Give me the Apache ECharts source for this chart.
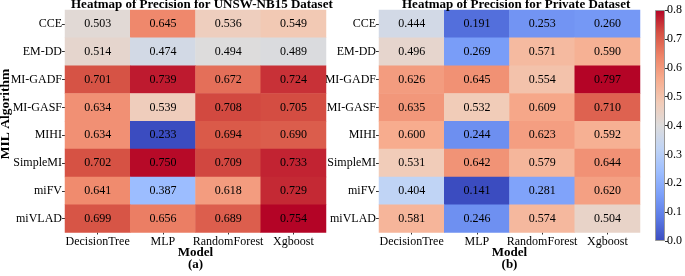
<!DOCTYPE html>
<html>
<head>
<meta charset="utf-8">
<script src="https://cdn.jsdelivr.net/npm/echarts@6/dist/echarts.min.js"></script>
<style>
  html, body { margin: 0; padding: 0; background: #fff; }
  #chart { width: 685px; height: 276px; }
</style>
</head>
<body>
<div id="chart"></div>
<script>
var models = ['DecisionTree', 'MLP', 'RandomForest', 'Xgboost'];
var algorithms = ['CCE', 'EM-DD', 'MI-GADF', 'MI-GASF', 'MIHI', 'SimpleMI', 'miFV', 'miVLAD'];

// 每行一个算法，列顺序同 models
var unswPrecision = [
  [0.503, 0.645, 0.536, 0.549],
  [0.514, 0.474, 0.494, 0.489],
  [0.701, 0.739, 0.672, 0.724],
  [0.634, 0.539, 0.708, 0.705],
  [0.634, 0.233, 0.694, 0.690],
  [0.702, 0.750, 0.709, 0.733],
  [0.641, 0.387, 0.618, 0.729],
  [0.699, 0.656, 0.689, 0.754]
];
var privatePrecision = [
  [0.444, 0.191, 0.253, 0.260],
  [0.496, 0.269, 0.571, 0.590],
  [0.626, 0.645, 0.554, 0.797],
  [0.635, 0.532, 0.609, 0.710],
  [0.600, 0.244, 0.623, 0.592],
  [0.531, 0.642, 0.579, 0.644],
  [0.404, 0.141, 0.281, 0.620],
  [0.581, 0.246, 0.574, 0.504]
];
var colorbarRange = [0.0, 0.8];
var colorbarStep = 0.1;

var coolwarm = ['#3b4cc0', '#5b7ae5', '#7b9ff9', '#9ebeff', '#c0d4f5', '#dddcdc',
                '#f2cbb7', '#f7ac8e', '#ee8468', '#d65244', '#b40426'];
var serif = "'Liberation Serif', 'Times New Roman', serif";

function toCells(table) {
  var out = [];
  table.forEach(function (row, y) {
    row.forEach(function (v, x) { out.push([x, y, v]); });
  });
  return out;
}
function flat(table) { return [].concat.apply([], table); }

var stops = coolwarm.slice().reverse().map(function (c, i) {
  return { offset: i / (coolwarm.length - 1), color: c };
});

var myChart = echarts.init(document.getElementById('chart'));

function xAxisFor(gi, tag) {
  return {
    type: 'category', gridIndex: gi, data: models, position: 'bottom',
    axisLine: { show: false },
    axisTick: { show: true, alignWithLabel: true, interval: 0, length: 2, lineStyle: { color: '#333' } },
    axisLabel: { color: '#000', fontFamily: serif, fontSize: 12, margin: 3, interval: 0 },
    splitArea: { show: false },
    name: '{b|Model}\n{b|' + tag + '}', nameLocation: 'middle', nameGap: 14,
    nameMoveOverlap: false,
    nameTextStyle: { rich: { b: { fontFamily: serif, fontWeight: 'bold', fontSize: 13, lineHeight: 12, color: '#000' } } }
  };
}
function yAxisFor(gi) {
  return {
    type: 'category', gridIndex: gi, data: algorithms, inverse: true,
    axisLine: { show: false },
    axisTick: { show: true, alignWithLabel: true, interval: 0, length: 3, lineStyle: { color: '#333' } },
    axisLabel: { color: '#000', fontFamily: serif, fontSize: 12, margin: 3, interval: 0 }
  };
}
function heatSeries(table, gi) {
  return {
    type: 'heatmap', xAxisIndex: gi, yAxisIndex: gi, data: toCells(table),
    label: {
      show: true, color: '#000', fontFamily: serif, fontSize: 12,
      formatter: function (p) { return p.value[2].toFixed(3); }
    },
    emphasis: { disabled: true }
  };
}

var option = {
  animation: false,
  backgroundColor: '#fff',
  graphic: [
    { type: 'text', left: 195 - 124, top: -2, z: 100,
      style: { text: 'Heatmap of Precision for UNSW-NB15 Dataset', fontFamily: serif, fontWeight: 'bold', fontSize: 13, fill: '#000' } },
    { type: 'text', left: 509 - 107, top: -2, z: 100,
      style: { text: 'Heatmap of Precision for Private Dataset', fontFamily: serif, fontWeight: 'bold', fontSize: 13, fill: '#000' } },
    { type: 'text', x: 6, y: 114, rotation: Math.PI / 2, z: 100,
      style: { text: 'MIL Algorithm', fontFamily: serif, fontWeight: 'bold', fontSize: 13.5, fill: '#000',
        align: 'center', verticalAlign: 'middle' } }
  ],
  grid: [
    { left: 65, top: 10, width: 261, height: 230 },
    { left: 379, top: 10, width: 261, height: 230 },
    { left: 655, top: 10, width: 13, height: 231 }
  ],
  xAxis: [
    xAxisFor(0, '(a)'),
    xAxisFor(1, '(b)'),
    { type: 'category', gridIndex: 2, data: ['cb'], show: false }
  ],
  yAxis: [
    yAxisFor(0),
    yAxisFor(1),
    {
      type: 'value', gridIndex: 2, position: 'right',
      min: colorbarRange[0], max: colorbarRange[1], interval: colorbarStep,
      splitLine: { show: false },
      axisLine: { show: false },
      axisTick: { show: true, length: 3, lineStyle: { color: '#333' } },
      axisLabel: { color: '#000', fontFamily: serif, fontSize: 12, margin: 2,
        formatter: function (v) { return v.toFixed(1); } }
    }
  ],
  visualMap: [
    { show: false, seriesIndex: 0, min: Math.min.apply(null, flat(unswPrecision)),
      max: Math.max.apply(null, flat(unswPrecision)), inRange: { color: coolwarm } },
    { show: false, seriesIndex: 1, min: Math.min.apply(null, flat(privatePrecision)),
      max: Math.max.apply(null, flat(privatePrecision)), inRange: { color: coolwarm } }
  ],
  series: [
    heatSeries(unswPrecision, 0),
    heatSeries(privatePrecision, 1),
    {
      type: 'bar', xAxisIndex: 2, yAxisIndex: 2, data: [colorbarRange[1]], barWidth: '100%',
      itemStyle: {
        color: new echarts.graphic.LinearGradient(0, 0, 0, 1, stops),
        borderColor: '#999', borderWidth: 1
      },
      silent: true
    }
  ]
};
myChart.setOption(option);
</script>
</body>
</html>
